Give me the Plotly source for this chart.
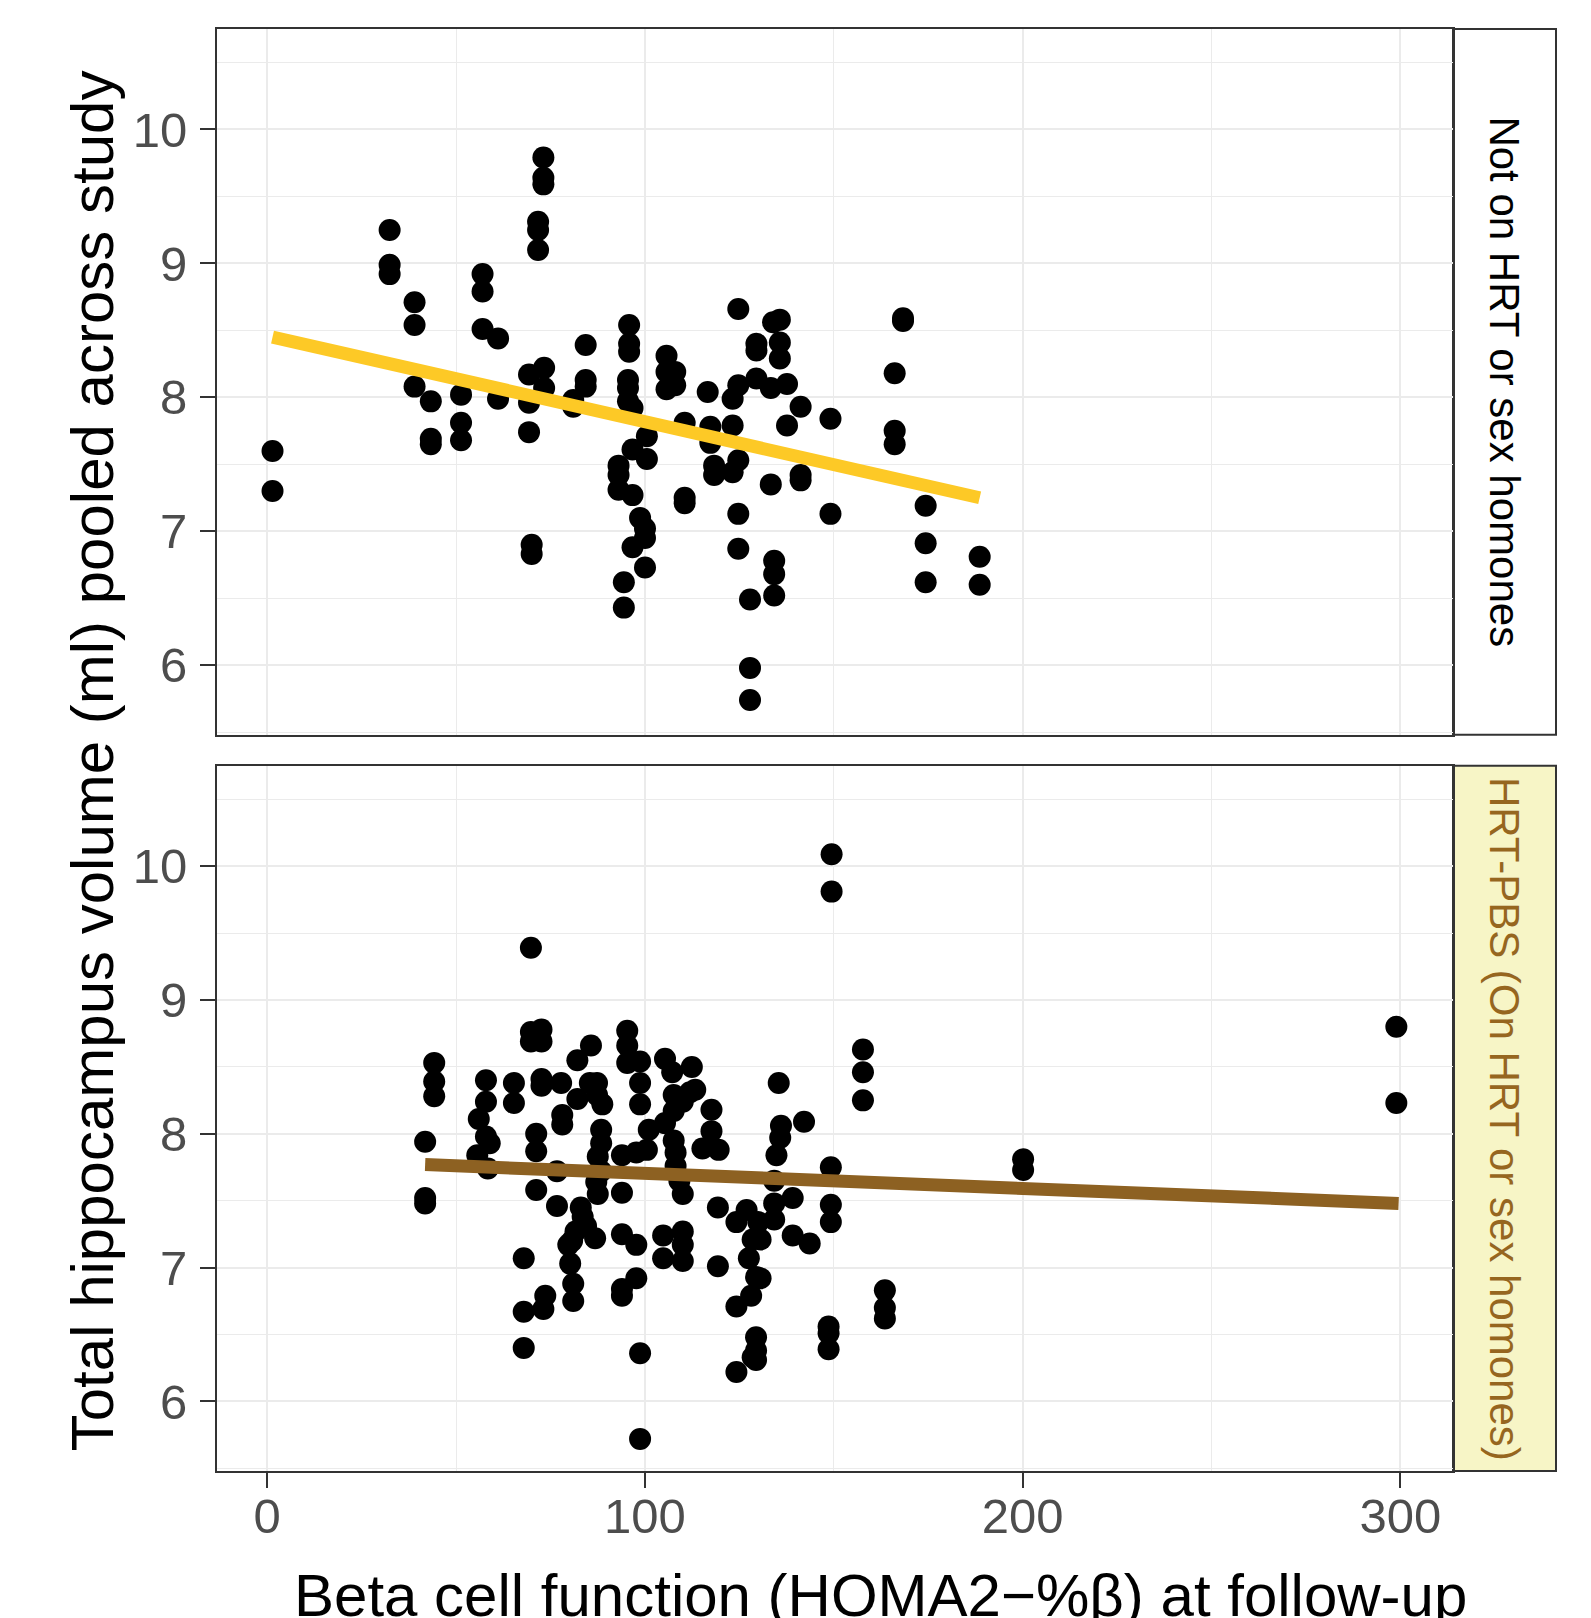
import plotly.graph_objects as go

# ---------------- data ----------------
top_x = [1.4, 1.4,
         32.4, 32.4, 32.4,
         39.0, 39.0, 39.0,
         43.3, 43.3, 43.3,
         51.3, 51.3, 51.3,
         57.0, 57.0, 57.0,
         61.1, 61.1,
         69.3, 69.3, 69.3,
         70.0, 70.0,
         71.7, 71.7, 71.7,
         73.1, 73.1, 73.1,
         73.3, 73.3,
         81.0, 81.0,
         84.3, 84.3, 84.3,
         95.8, 95.8, 95.8,
         95.5, 95.5, 95.5,
         96.7, 96.7, 96.7, 96.7,
         93.0, 93.0, 93.0,
         100.5, 100.5,
         98.7,
         100.0, 100.0, 100.0,
         94.4, 94.4,
         105.7, 105.7, 105.7,
         108.0, 108.0,
         110.5, 110.5, 110.5,
         116.6, 117.3, 117.3, 118.3, 118.3,
         124.7, 124.7, 124.7, 124.7, 124.7,
         123.2, 123.2, 123.2,
         127.8, 127.8, 127.8,
         129.5, 129.5, 129.5,
         133.9, 135.7, 135.7, 135.7,
         133.3, 133.3,
         137.6, 137.6,
         141.2, 141.2, 141.2,
         134.2, 134.2, 134.2,
         149.1, 149.1,
         166.1, 166.1, 166.1,
         168.3, 168.3,
         174.3, 174.3, 174.3,
         188.6, 188.6]
top_y = [7.60, 7.30,
         9.25, 8.99, 8.92,
         8.71, 8.54, 8.08,
         7.97, 7.69, 7.65,
         8.02, 7.81, 7.68,
         8.92, 8.79, 8.51,
         8.44, 7.99,
         8.17, 7.96, 7.74,
         6.90, 6.83,
         9.31, 9.25, 9.10,
         9.79, 9.64, 9.59,
         8.22, 8.07,
         7.98, 7.93,
         8.39, 8.13, 8.08,
         8.54, 8.40, 8.34,
         8.13, 8.07, 7.97,
         7.92, 7.61, 7.27, 6.88,
         7.49, 7.42, 7.31,
         7.71, 7.54,
         7.10,
         7.02, 6.95, 6.73,
         6.62, 6.43,
         8.31, 8.19, 8.06,
         8.19, 8.09,
         7.81, 7.25, 7.21,
         8.04, 7.78, 7.66, 7.49, 7.42,
         8.66, 8.09, 7.53, 7.13, 6.87,
         7.99, 7.79, 7.44,
         6.49, 5.98, 5.74,
         8.40, 8.35, 8.14,
         8.56, 8.58, 8.41, 8.29,
         8.07, 7.35,
         8.10, 7.79,
         7.93, 7.42, 7.38,
         6.78, 6.68, 6.52,
         7.84, 7.13,
         8.18, 7.75, 7.65,
         8.57, 8.59,
         7.19, 6.91, 6.62,
         6.81, 6.60]

bot_x = [41.8, 41.8, 41.8,
         44.2, 44.2, 44.2,
         55.6, 56.0,
         57.9, 57.9, 57.9, 58.9, 58.4,
         65.3, 65.3,
         67.9, 67.9, 67.9,
         69.8, 69.8, 69.8,
         71.2, 71.2, 71.2,
         72.6, 72.6, 72.6, 72.6,
         73.6, 73.1,
         76.7, 76.7,
         77.8, 78.1, 78.1,
         80.2, 79.7, 80.7,
         81.0, 81.0, 81.6,
         82.1, 82.1,
         83.0, 83.5, 84.4,
         85.4, 85.7, 86.8, 87.1,
         87.3, 87.3, 87.5, 87.5,
         88.4, 88.4, 88.4, 88.7,
         93.9, 93.9, 93.9, 93.9, 93.9,
         95.3, 95.3, 95.3,
         97.7, 97.7, 97.7,
         98.7, 98.7, 98.7, 98.7, 98.7,
         100.5, 101.0,
         104.8, 104.8,
         105.3, 105.3, 107.2,
         107.6, 107.6, 107.6,
         108.1, 108.1, 109.1,
         110.0, 110.0, 110.0, 110.0, 110.0,
         111.9, 112.4, 113.3, 115.2,
         117.6, 117.6, 119.5,
         119.3, 119.3,
         124.2, 124.2, 124.2,
         126.9, 127.5, 128.1,
         128.5, 128.5,
         129.4, 129.4, 129.4, 129.4,
         130.0, 130.6, 130.6,
         134.2, 134.2, 134.2, 134.8,
         135.4, 135.8, 136.0,
         139.1, 139.1,
         142.1, 143.6,
         148.6, 148.6, 148.6,
         149.2, 149.2, 149.2,
         149.4, 149.4,
         157.7, 157.7, 157.7,
         163.5, 163.5, 163.5,
         200.1, 200.1,
         298.9, 298.9]
bot_y = [7.94, 7.52, 7.48,
         8.53, 8.39, 8.28,
         7.84, 8.11,
         8.40, 8.24, 7.98, 7.93, 7.74,
         8.38, 8.23,
         7.07, 6.67, 6.40,
         9.39, 8.76, 8.69,
         8.00, 7.87, 7.58,
         8.78, 8.69, 8.41, 8.36,
         6.79, 6.69,
         7.72, 7.46,
         8.38, 8.14, 8.07,
         7.03, 7.17, 7.20,
         6.88, 6.75, 7.27,
         8.55, 8.26,
         7.45, 7.38, 7.31,
         8.38, 8.66, 7.22, 7.64,
         8.38, 8.29, 7.83, 7.55,
         8.03, 7.93, 7.72, 8.22,
         7.84, 7.56, 7.25, 6.84, 6.79,
         8.77, 8.66, 8.53,
         7.86, 7.17, 6.92,
         8.54, 8.38, 8.22, 6.36, 5.72,
         7.88, 8.03,
         7.24, 7.07,
         8.56, 8.08, 8.46,
         8.29, 8.17, 7.95,
         7.86, 7.76, 7.65,
         8.24, 7.55, 7.27, 7.17, 7.05,
         8.31, 8.50, 8.33, 7.89,
         8.18, 8.02, 7.88,
         7.45, 7.01,
         7.34, 6.71, 6.22,
         7.43, 7.07, 6.79,
         7.21, 6.33,
         6.93, 6.48, 6.38, 6.31,
         7.34, 7.21, 6.92,
         7.36, 7.48, 7.65, 7.84,
         8.38, 7.97, 8.06,
         7.52, 7.24,
         8.09, 7.18,
         6.56, 6.51, 6.39,
         7.75, 7.47, 7.34,
         10.09, 9.81,
         8.63, 8.46, 8.25,
         6.83, 6.70, 6.62,
         7.81, 7.73,
         8.80, 8.23]

# fitted (lm) lines as drawn in the reference
top_fit_x = [1.4, 188.6]
top_fit_y = [8.45, 7.25]
bot_fit_x = [41.8, 299.5]
bot_fit_y = [7.77, 7.48]

x_ticks = [0, 100, 200, 300]
y_ticks = [6, 7, 8, 9, 10]

strip_top = "Not on HRT or sex homones"
strip_bot = "HRT-PBS (On HRT or sex homones)"
x_title = "Beta cell function (HOMA2\u2212%\u03b2) at follow-up"
y_title = "Total hippocampus volume (ml) pooled across study"

# ---------------- layout geometry (screen pixels) ----------------
OFF = 8                      # page body margin in the browser
W, H = 1591 - OFF, 1618 - OFF
PL, PR, PT, PB = 217, 1556, 28.5, 1471   # plot+strip block in screen px
ML = PL - OFF
MT = PT - OFF
MR = W - (PR - OFF)
MB = H - (PB - OFF)
PW = PR - PL
PH = PB - PT
def px(x):
    return (x - PL) / PW
def py(y):
    return (PB - y) / PH

panel_right = px(1453)
top_dom = [py(734.6), 1.0]
bot_dom = [0.0, py(765.6)]

TOP_COL = "#FDC926"
BOT_COL = "#8D6122"
STRIP_FILL = "#F7F5C6"
BORDER = "#333333"
GRID = "#EBEBEB"
FONT = "Liberation Sans, Arial, sans-serif"

fig = go.Figure()

fig.add_trace(go.Scatter(x=top_x, y=top_y, mode="markers", xaxis="x2", yaxis="y2",
                         marker=dict(color="black", size=22, line=dict(width=0)),
                         showlegend=False, hoverinfo="skip"))
fig.add_trace(go.Scatter(x=top_fit_x, y=top_fit_y, mode="lines", xaxis="x2", yaxis="y2",
                         line=dict(color=TOP_COL, width=13), showlegend=False))
fig.add_trace(go.Scatter(x=bot_x, y=bot_y, mode="markers", xaxis="x", yaxis="y",
                         marker=dict(color="black", size=22, line=dict(width=0)),
                         showlegend=False, hoverinfo="skip"))
fig.add_trace(go.Scatter(x=bot_fit_x, y=bot_fit_y, mode="lines", xaxis="x", yaxis="y",
                         line=dict(color=BOT_COL, width=13), showlegend=False))

xr = [-13.3, 313.9]
yr = [5.48, 10.75]

common_x = dict(range=xr, tickvals=x_ticks, showgrid=True, gridcolor=GRID, gridwidth=2,
                minor=dict(dtick=50, tick0=0, showgrid=True, gridcolor=GRID, gridwidth=1, ticks=""),
                showline=True, mirror=True, linecolor=BORDER, linewidth=2, zeroline=False,
                domain=[0, panel_right])
common_y = dict(range=yr, tickvals=y_ticks, showgrid=True, gridcolor=GRID, gridwidth=2,
                minor=dict(dtick=0.5, tick0=0, showgrid=True, gridcolor=GRID, gridwidth=1, ticks=""),
                showline=True, mirror=True, linecolor=BORDER, linewidth=2, zeroline=False,
                ticks="outside", ticklen=15, tickwidth=2, tickcolor=BORDER,
                tickfont=dict(family=FONT, size=49, color="#4D4D4D"), ticklabelstandoff=3)

fig.update_layout(
    width=W, height=H,
    margin=dict(l=ML, r=MR, t=MT, b=MB, pad=0),
    paper_bgcolor="white", plot_bgcolor="white",
    font=dict(family=FONT),
    xaxis=dict(common_x, anchor="y", ticks="outside", ticklen=15, tickwidth=2, tickcolor=BORDER,
               tickfont=dict(family=FONT, size=49, color="#4D4D4D"), ticklabelstandoff=-14),
    xaxis2=dict(common_x, anchor="y2", matches="x", showticklabels=False, ticks=""),
    yaxis=dict(common_y, anchor="x", domain=bot_dom),
    yaxis2=dict(common_y, anchor="x2", domain=top_dom, matches="y"),
    shapes=[
        dict(type="rect", xref="paper", yref="paper", x0=panel_right, x1=px(1556),
             y0=top_dom[0], y1=top_dom[1], fillcolor="white",
             line=dict(color=BORDER, width=2), layer="below"),
        dict(type="rect", xref="paper", yref="paper", x0=panel_right, x1=px(1556),
             y0=bot_dom[0], y1=bot_dom[1], fillcolor=STRIP_FILL,
             line=dict(color=BORDER, width=2), layer="below"),
    ],
    annotations=[
        dict(text=strip_top, xref="paper", yref="paper", x=px(1504.5),
             y=(top_dom[0] + top_dom[1]) / 2, textangle=90, showarrow=False,
             xanchor="center", yanchor="middle",
             font=dict(family=FONT, size=42, color="black")),
        dict(text=strip_bot, xref="paper", yref="paper", x=px(1504.5),
             y=(bot_dom[0] + bot_dom[1]) / 2, textangle=90, showarrow=False,
             xanchor="center", yanchor="middle",
             font=dict(family=FONT, size=42, color="#96661F")),
        dict(text=x_title, xref="paper", yref="paper", x=px(880), y=py(1596),
             showarrow=False, xanchor="center", yanchor="middle",
             font=dict(family=FONT, size=60, color="black")),
        dict(text=y_title, xref="paper", yref="paper", x=px(92), y=py(761),
             textangle=-90, showarrow=False, xanchor="center", yanchor="middle",
             font=dict(family=FONT, size=60, color="black")),
    ],
)

fig.write_html("out.html")
